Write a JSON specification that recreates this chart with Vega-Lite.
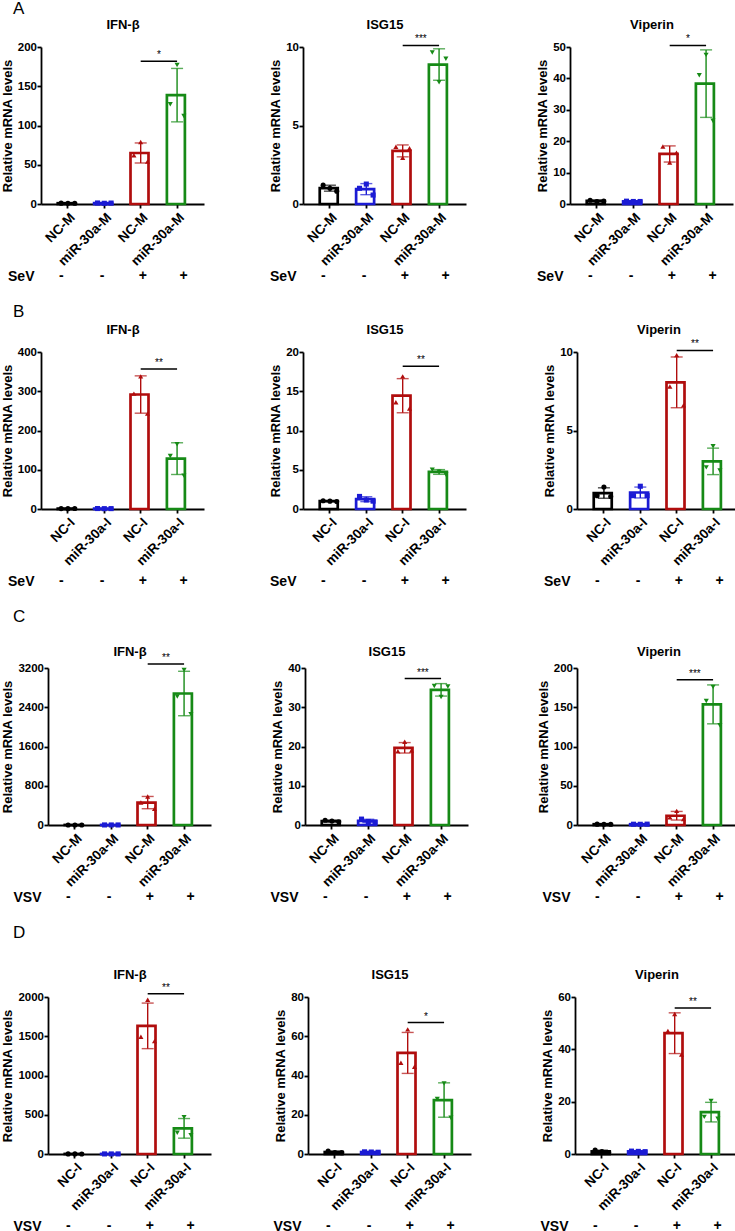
{
  "$schema": "https://vega.github.io/schema/vega-lite/v6.json",
  "background": "white",
  "padding": {"left": 0, "top": 0, "right": 0, "bottom": 0},
  "columns": 1,
  "align": "none",
  "spacing": 20,
  "config": {
    "font": "Liberation Sans",
    "view": {"stroke": null},
    "axis": {"grid": false, "domainColor": "#000", "domainWidth": 1.8, "tickColor": "#000", "tickWidth": 1.8, "tickSize": 4, "labelColor": "#000", "labelFontWeight": "bold", "labelFontSize": 11.5, "labelPadding": 0.5, "titleColor": "#000", "titleFontWeight": "bold", "titleFontSize": 13, "titlePadding": 3},
    "axisX": {"labelAngle": -45, "labelFontSize": 13.5, "labelPadding": 2},
    "title": {"fontSize": 17, "fontWeight": "normal", "color": "#000", "anchor": "start", "dx": 13},
    "text": {"color": "#000"}
  },
  "datasets": {
    "reps": [
      {"p":"A1","g":"NC-M/-","rep":1,"v":1.1},{"p":"A1","g":"NC-M/-","rep":2,"v":0.95},{"p":"A1","g":"NC-M/-","rep":3,"v":0.95},
      {"p":"A1","g":"miR-30a-M/-","rep":1,"v":1.3},{"p":"A1","g":"miR-30a-M/-","rep":2,"v":0.9},{"p":"A1","g":"miR-30a-M/-","rep":3,"v":1.2},
      {"p":"A1","g":"NC-M/+","rep":1,"v":62},{"p":"A1","g":"NC-M/+","rep":2,"v":79},{"p":"A1","g":"NC-M/+","rep":3,"v":54},
      {"p":"A1","g":"miR-30a-M/+","rep":1,"v":127},{"p":"A1","g":"miR-30a-M/+","rep":2,"v":177},{"p":"A1","g":"miR-30a-M/+","rep":3,"v":112},
      {"p":"A2","g":"NC-M/-","rep":1,"v":1.2},{"p":"A2","g":"NC-M/-","rep":2,"v":1.0},{"p":"A2","g":"NC-M/-","rep":3,"v":0.82},
      {"p":"A2","g":"miR-30a-M/-","rep":1,"v":1.0},{"p":"A2","g":"miR-30a-M/-","rep":2,"v":1.27},{"p":"A2","g":"miR-30a-M/-","rep":3,"v":0.57},
      {"p":"A2","g":"NC-M/+","rep":1,"v":3.65},{"p":"A2","g":"NC-M/+","rep":2,"v":2.95},{"p":"A2","g":"NC-M/+","rep":3,"v":3.55},
      {"p":"A2","g":"miR-30a-M/+","rep":1,"v":9.65},{"p":"A2","g":"miR-30a-M/+","rep":2,"v":7.75},{"p":"A2","g":"miR-30a-M/+","rep":3,"v":9.25},
      {"p":"A3","g":"NC-M/-","rep":1,"v":1.2},{"p":"A3","g":"NC-M/-","rep":2,"v":0.8},{"p":"A3","g":"NC-M/-","rep":3,"v":0.9},
      {"p":"A3","g":"miR-30a-M/-","rep":1,"v":0.9},{"p":"A3","g":"miR-30a-M/-","rep":2,"v":0.8},{"p":"A3","g":"miR-30a-M/-","rep":3,"v":0.8},
      {"p":"A3","g":"NC-M/+","rep":1,"v":18.3},{"p":"A3","g":"NC-M/+","rep":2,"v":13.2},{"p":"A3","g":"NC-M/+","rep":3,"v":16.3},
      {"p":"A3","g":"miR-30a-M/+","rep":1,"v":41},{"p":"A3","g":"miR-30a-M/+","rep":2,"v":47.5},{"p":"A3","g":"miR-30a-M/+","rep":3,"v":26.5},
      {"p":"B1","g":"NC-I/-","rep":1,"v":1.0},{"p":"B1","g":"NC-I/-","rep":2,"v":0.9},{"p":"B1","g":"NC-I/-","rep":3,"v":1.1},
      {"p":"B1","g":"miR-30a-I/-","rep":1,"v":1.2},{"p":"B1","g":"miR-30a-I/-","rep":2,"v":0.9},{"p":"B1","g":"miR-30a-I/-","rep":3,"v":1.0},
      {"p":"B1","g":"NC-I/+","rep":1,"v":294},{"p":"B1","g":"NC-I/+","rep":2,"v":338},{"p":"B1","g":"NC-I/+","rep":3,"v":243},
      {"p":"B1","g":"miR-30a-I/+","rep":1,"v":135},{"p":"B1","g":"miR-30a-I/+","rep":2,"v":165},{"p":"B1","g":"miR-30a-I/+","rep":3,"v":85},
      {"p":"B2","g":"NC-I/-","rep":1,"v":1.05},{"p":"B2","g":"NC-I/-","rep":2,"v":1.0},{"p":"B2","g":"NC-I/-","rep":3,"v":0.95},
      {"p":"B2","g":"miR-30a-I/-","rep":1,"v":1.6},{"p":"B2","g":"miR-30a-I/-","rep":2,"v":1.15},{"p":"B2","g":"miR-30a-I/-","rep":3,"v":1.0},
      {"p":"B2","g":"NC-I/+","rep":1,"v":13.6},{"p":"B2","g":"NC-I/+","rep":2,"v":16.9},{"p":"B2","g":"NC-I/+","rep":3,"v":12.8},
      {"p":"B2","g":"miR-30a-I/+","rep":1,"v":5.0},{"p":"B2","g":"miR-30a-I/+","rep":2,"v":4.75},{"p":"B2","g":"miR-30a-I/+","rep":3,"v":4.4},
      {"p":"B3","g":"NC-I/-","rep":1,"v":0.85},{"p":"B3","g":"NC-I/-","rep":2,"v":1.4},{"p":"B3","g":"NC-I/-","rep":3,"v":0.8},
      {"p":"B3","g":"miR-30a-I/-","rep":1,"v":0.85},{"p":"B3","g":"miR-30a-I/-","rep":2,"v":1.45},{"p":"B3","g":"miR-30a-I/-","rep":3,"v":0.85},
      {"p":"B3","g":"NC-I/+","rep":1,"v":7.8},{"p":"B3","g":"NC-I/+","rep":2,"v":9.8},{"p":"B3","g":"NC-I/+","rep":3,"v":6.6},
      {"p":"B3","g":"miR-30a-I/+","rep":1,"v":2.65},{"p":"B3","g":"miR-30a-I/+","rep":2,"v":4.0},{"p":"B3","g":"miR-30a-I/+","rep":3,"v":2.45},
      {"p":"C1","g":"NC-M/-","rep":1,"v":1.1},{"p":"C1","g":"NC-M/-","rep":2,"v":0.9},{"p":"C1","g":"NC-M/-","rep":3,"v":1.0},
      {"p":"C1","g":"miR-30a-M/-","rep":1,"v":1.2},{"p":"C1","g":"miR-30a-M/-","rep":2,"v":0.8},{"p":"C1","g":"miR-30a-M/-","rep":3,"v":1.0},
      {"p":"C1","g":"NC-M/+","rep":1,"v":460},{"p":"C1","g":"NC-M/+","rep":2,"v":580},{"p":"C1","g":"NC-M/+","rep":3,"v":330},
      {"p":"C1","g":"miR-30a-M/+","rep":1,"v":2620},{"p":"C1","g":"miR-30a-M/+","rep":2,"v":3160},{"p":"C1","g":"miR-30a-M/+","rep":3,"v":2260},
      {"p":"C2","g":"NC-M/-","rep":1,"v":1.2},{"p":"C2","g":"NC-M/-","rep":2,"v":1.0},{"p":"C2","g":"NC-M/-","rep":3,"v":0.8},
      {"p":"C2","g":"miR-30a-M/-","rep":1,"v":1.5},{"p":"C2","g":"miR-30a-M/-","rep":2,"v":0.9},{"p":"C2","g":"miR-30a-M/-","rep":3,"v":0.7},
      {"p":"C2","g":"NC-M/+","rep":1,"v":18.8},{"p":"C2","g":"NC-M/+","rep":2,"v":21.2},{"p":"C2","g":"NC-M/+","rep":3,"v":19.0},
      {"p":"C2","g":"miR-30a-M/+","rep":1,"v":35.4},{"p":"C2","g":"miR-30a-M/+","rep":2,"v":32.6},{"p":"C2","g":"miR-30a-M/+","rep":3,"v":35.3},
      {"p":"C3","g":"NC-M/-","rep":1,"v":1.1},{"p":"C3","g":"NC-M/-","rep":2,"v":0.9},{"p":"C3","g":"NC-M/-","rep":3,"v":1.0},
      {"p":"C3","g":"miR-30a-M/-","rep":1,"v":1.0},{"p":"C3","g":"miR-30a-M/-","rep":2,"v":0.9},{"p":"C3","g":"miR-30a-M/-","rep":3,"v":1.1},
      {"p":"C3","g":"NC-M/+","rep":1,"v":9.8},{"p":"C3","g":"NC-M/+","rep":2,"v":18.0},{"p":"C3","g":"NC-M/+","rep":3,"v":7.6},
      {"p":"C3","g":"miR-30a-M/+","rep":1,"v":158},{"p":"C3","g":"miR-30a-M/+","rep":2,"v":176},{"p":"C3","g":"miR-30a-M/+","rep":3,"v":127},
      {"p":"D1","g":"NC-I/-","rep":1,"v":1.0},{"p":"D1","g":"NC-I/-","rep":2,"v":1.1},{"p":"D1","g":"NC-I/-","rep":3,"v":0.9},
      {"p":"D1","g":"miR-30a-I/-","rep":1,"v":1.0},{"p":"D1","g":"miR-30a-I/-","rep":2,"v":0.9},{"p":"D1","g":"miR-30a-I/-","rep":3,"v":1.1},
      {"p":"D1","g":"NC-I/+","rep":1,"v":1493},{"p":"D1","g":"NC-I/+","rep":2,"v":1966},{"p":"D1","g":"NC-I/+","rep":3,"v":1438},
      {"p":"D1","g":"miR-30a-I/+","rep":1,"v":270},{"p":"D1","g":"miR-30a-I/+","rep":2,"v":470},{"p":"D1","g":"miR-30a-I/+","rep":3,"v":240},
      {"p":"D2","g":"NC-I/-","rep":1,"v":1.5},{"p":"D2","g":"NC-I/-","rep":2,"v":0.8},{"p":"D2","g":"NC-I/-","rep":3,"v":0.7},
      {"p":"D2","g":"miR-30a-I/-","rep":1,"v":1.1},{"p":"D2","g":"miR-30a-I/-","rep":2,"v":1.0},{"p":"D2","g":"miR-30a-I/-","rep":3,"v":0.9},
      {"p":"D2","g":"NC-I/+","rep":1,"v":46.5},{"p":"D2","g":"NC-I/+","rep":2,"v":63.5},{"p":"D2","g":"NC-I/+","rep":3,"v":44.5},
      {"p":"D2","g":"miR-30a-I/+","rep":1,"v":28},{"p":"D2","g":"miR-30a-I/+","rep":2,"v":36},{"p":"D2","g":"miR-30a-I/+","rep":3,"v":18.5},
      {"p":"D3","g":"NC-I/-","rep":1,"v":1.5},{"p":"D3","g":"NC-I/-","rep":2,"v":0.9},{"p":"D3","g":"NC-I/-","rep":3,"v":0.6},
      {"p":"D3","g":"miR-30a-I/-","rep":1,"v":1.1},{"p":"D3","g":"miR-30a-I/-","rep":2,"v":1.0},{"p":"D3","g":"miR-30a-I/-","rep":3,"v":0.9},
      {"p":"D3","g":"NC-I/+","rep":1,"v":47},{"p":"D3","g":"NC-I/+","rep":2,"v":53.5},{"p":"D3","g":"NC-I/+","rep":3,"v":38},
      {"p":"D3","g":"miR-30a-I/+","rep":1,"v":14.2},{"p":"D3","g":"miR-30a-I/+","rep":2,"v":20.3},{"p":"D3","g":"miR-30a-I/+","rep":3,"v":13.5}
    ],
    "sig": [
      {"p":"A1","from":"NC-M/+","to":"miR-30a-M/+","v":182,"s":"*"},
      {"p":"A2","from":"NC-M/+","to":"miR-30a-M/+","v":10.1,"s":"***"},
      {"p":"A3","from":"NC-M/+","to":"miR-30a-M/+","v":50.5,"s":"*"},
      {"p":"B1","from":"NC-I/+","to":"miR-30a-I/+","v":357,"s":"**"},
      {"p":"B2","from":"NC-I/+","to":"miR-30a-I/+","v":18.2,"s":"**"},
      {"p":"B3","from":"NC-I/+","to":"miR-30a-I/+","v":10.1,"s":"**"},
      {"p":"C1","from":"NC-M/+","to":"miR-30a-M/+","v":3281,"s":"**"},
      {"p":"C2","from":"NC-M/+","to":"miR-30a-M/+","v":37.3,"s":"***"},
      {"p":"C3","from":"NC-M/+","to":"miR-30a-M/+","v":185,"s":"***"},
      {"p":"D1","from":"NC-I/+","to":"miR-30a-I/+","v":2042,"s":"**"},
      {"p":"D2","from":"NC-I/+","to":"miR-30a-I/+","v":67,"s":"*"},
      {"p":"D3","from":"NC-I/+","to":"miR-30a-I/+","v":55.8,"s":"**"}
    ],
    "conds": [
      {"r":"A","g":"NC-M/-","s":"-","virus":"SeV"},{"r":"A","g":"miR-30a-M/-","s":"-","virus":"SeV"},{"r":"A","g":"NC-M/+","s":"+","virus":"SeV"},{"r":"A","g":"miR-30a-M/+","s":"+","virus":"SeV"},
      {"r":"B","g":"NC-I/-","s":"-","virus":"SeV"},{"r":"B","g":"miR-30a-I/-","s":"-","virus":"SeV"},{"r":"B","g":"NC-I/+","s":"+","virus":"SeV"},{"r":"B","g":"miR-30a-I/+","s":"+","virus":"SeV"},
      {"r":"C","g":"NC-M/-","s":"-","virus":"VSV"},{"r":"C","g":"miR-30a-M/-","s":"-","virus":"VSV"},{"r":"C","g":"NC-M/+","s":"+","virus":"VSV"},{"r":"C","g":"miR-30a-M/+","s":"+","virus":"VSV"},
      {"r":"D","g":"NC-I/-","s":"-","virus":"VSV"},{"r":"D","g":"miR-30a-I/-","s":"-","virus":"VSV"},{"r":"D","g":"NC-I/+","s":"+","virus":"VSV"},{"r":"D","g":"miR-30a-I/+","s":"+","virus":"VSV"}
    ]
  },
  "concat": [
    {
      "title": {"text": "A", "offset": 0},
      "spacing": 0,
      "hconcat": [
        {"width": 1, "height": 1, "data": {"values": [{}]}, "mark": {"type": "text", "text": ""}},
        {"spacing": 65, "hconcat": [
        {"bounds": "flush", "spacing": 65, "vconcat": [
          {"width": 163, "height": 157, "data": {"name": "reps"}, "transform": [{"filter": {"field": "p", "equal": "A1"}}], "resolve": {"axis": {"x": "independent"}},
           "encoding": {
             "x": {"field": "g", "type": "nominal", "scale": {"domain": ["NC-M/-","miR-30a-M/-","NC-M/+","miR-30a-M/+"], "paddingInner": 0.44, "paddingOuter": 0.46}, "axis": null},
             "y": {"field": "v", "type": "quantitative", "scale": {"domain": [0, 200], "nice": false}, "axis": {"values": [0, 50, 100, 150, 200], "format": "d", "title": "Relative mRNA levels"}},
             "color": {"field": "g", "type": "nominal", "scale": {"domain": ["NC-M/-","miR-30a-M/-","NC-M/+","miR-30a-M/+","NC-I/-","miR-30a-I/-","NC-I/+","miR-30a-I/+"], "range": ["#000000","#1b1bd4","#b00d0d","#168a16","#000000","#1b1bd4","#b00d0d","#168a16"]}, "legend": null}
           },
           "layer": [
             {"transform": [{"aggregate": [{"op": "mean", "field": "v", "as": "v"}], "groupby": ["g"]}], "mark": {"type": "bar", "filled": false, "strokeWidth": 2.7}, "encoding": {"x": {"field": "g", "type": "nominal", "axis": {"title": null, "labelExpr": "split(datum.label, '/')[0]"}}}},
             {"mark": {"type": "errorbar", "extent": "stdev", "ticks": {"size": 12}, "thickness": 1.4}},
             {"mark": {"type": "point", "filled": true, "size": 26, "opacity": 1}, "encoding": {"xOffset": {"field": "rep", "type": "nominal"}, "shape": {"field": "g", "type": "nominal", "scale": {"domain": ["NC-M/-","miR-30a-M/-","NC-M/+","miR-30a-M/+","NC-I/-","miR-30a-I/-","NC-I/+","miR-30a-I/+"], "range": ["circle","square","triangle-up","triangle-down","circle","square","triangle-up","triangle-down"]}, "legend": null}}},
             {"data": {"name": "sig"}, "transform": [{"filter": {"field": "p", "equal": "A1"}}], "mark": {"type": "rule", "strokeWidth": 1.5, "color": "#000"}, "encoding": {"x": {"field": "from", "type": "nominal", "bandPosition": 0.5, "axis": null}, "x2": {"field": "to", "bandPosition": 0.5}, "color": {"value": "#000"}}},
             {"data": {"name": "sig"}, "transform": [{"filter": {"field": "p", "equal": "A1"}}], "mark": {"type": "text", "baseline": "bottom", "dy": -1, "fontSize": 10, "fill": "#000"}, "encoding": {"x": {"field": "from", "type": "nominal", "bandPosition": 1.393, "axis": {"orient": "top", "title": "IFN-β", "labels": false, "ticks": false, "domain": false, "titlePadding": 16}}, "text": {"field": "s"}, "color": {"value": "#000"}}}
           ]},
          {"width": 163, "height": 14, "data": {"name": "conds"}, "transform": [{"filter": {"field": "r", "equal": "A"}}], "mark": {"type": "text", "fontSize": 14, "fontWeight": "bold"},
           "encoding": {"x": {"field": "g", "type": "nominal", "scale": {"domain": ["NC-M/-","miR-30a-M/-","NC-M/+","miR-30a-M/+"], "paddingInner": 0.44, "paddingOuter": 0.46}, "axis": null}, "y": {"field": "virus", "type": "nominal", "axis": {"title": null, "domain": false, "ticks": false, "labelFontSize": 14, "labelPadding": 7, "labelAngle": 0}}, "text": {"field": "s"}}}
        ]},
        {"spacing": 70, "hconcat": [
        {"bounds": "flush", "spacing": 65, "vconcat": [
          {"width": 163, "height": 157, "data": {"name": "reps"}, "transform": [{"filter": {"field": "p", "equal": "A2"}}], "resolve": {"axis": {"x": "independent"}},
           "encoding": {
             "x": {"field": "g", "type": "nominal", "scale": {"domain": ["NC-M/-","miR-30a-M/-","NC-M/+","miR-30a-M/+"], "paddingInner": 0.44, "paddingOuter": 0.46}, "axis": null},
             "y": {"field": "v", "type": "quantitative", "scale": {"domain": [0, 10], "nice": false}, "axis": {"values": [0, 5, 10], "format": "d", "title": "Relative mRNA levels"}},
             "color": {"field": "g", "type": "nominal", "scale": {"domain": ["NC-M/-","miR-30a-M/-","NC-M/+","miR-30a-M/+","NC-I/-","miR-30a-I/-","NC-I/+","miR-30a-I/+"], "range": ["#000000","#1b1bd4","#b00d0d","#168a16","#000000","#1b1bd4","#b00d0d","#168a16"]}, "legend": null}
           },
           "layer": [
             {"transform": [{"aggregate": [{"op": "mean", "field": "v", "as": "v"}], "groupby": ["g"]}], "mark": {"type": "bar", "filled": false, "strokeWidth": 2.7}, "encoding": {"x": {"field": "g", "type": "nominal", "axis": {"title": null, "labelExpr": "split(datum.label, '/')[0]"}}}},
             {"mark": {"type": "errorbar", "extent": "stdev", "ticks": {"size": 12}, "thickness": 1.4}},
             {"mark": {"type": "point", "filled": true, "size": 26, "opacity": 1}, "encoding": {"xOffset": {"field": "rep", "type": "nominal"}, "shape": {"field": "g", "type": "nominal", "scale": {"domain": ["NC-M/-","miR-30a-M/-","NC-M/+","miR-30a-M/+","NC-I/-","miR-30a-I/-","NC-I/+","miR-30a-I/+"], "range": ["circle","square","triangle-up","triangle-down","circle","square","triangle-up","triangle-down"]}, "legend": null}}},
             {"data": {"name": "sig"}, "transform": [{"filter": {"field": "p", "equal": "A2"}}], "mark": {"type": "rule", "strokeWidth": 1.5, "color": "#000"}, "encoding": {"x": {"field": "from", "type": "nominal", "bandPosition": 0.5, "axis": null}, "x2": {"field": "to", "bandPosition": 0.5}, "color": {"value": "#000"}}},
             {"data": {"name": "sig"}, "transform": [{"filter": {"field": "p", "equal": "A2"}}], "mark": {"type": "text", "baseline": "bottom", "dy": -1, "fontSize": 10, "fill": "#000"}, "encoding": {"x": {"field": "from", "type": "nominal", "bandPosition": 1.393, "axis": {"orient": "top", "title": "ISG15", "labels": false, "ticks": false, "domain": false, "titlePadding": 16}}, "text": {"field": "s"}, "color": {"value": "#000"}}}
           ]},
          {"width": 163, "height": 14, "data": {"name": "conds"}, "transform": [{"filter": {"field": "r", "equal": "A"}}], "mark": {"type": "text", "fontSize": 14, "fontWeight": "bold"},
           "encoding": {"x": {"field": "g", "type": "nominal", "scale": {"domain": ["NC-M/-","miR-30a-M/-","NC-M/+","miR-30a-M/+"], "paddingInner": 0.44, "paddingOuter": 0.46}, "axis": null}, "y": {"field": "virus", "type": "nominal", "axis": {"title": null, "domain": false, "ticks": false, "labelFontSize": 14, "labelPadding": 7, "labelAngle": 0}}, "text": {"field": "s"}}}
        ]},
        {"bounds": "flush", "spacing": 65, "vconcat": [
          {"width": 163, "height": 157, "data": {"name": "reps"}, "transform": [{"filter": {"field": "p", "equal": "A3"}}], "resolve": {"axis": {"x": "independent"}},
           "encoding": {
             "x": {"field": "g", "type": "nominal", "scale": {"domain": ["NC-M/-","miR-30a-M/-","NC-M/+","miR-30a-M/+"], "paddingInner": 0.44, "paddingOuter": 0.46}, "axis": null},
             "y": {"field": "v", "type": "quantitative", "scale": {"domain": [0, 50], "nice": false}, "axis": {"values": [0, 10, 20, 30, 40, 50], "format": "d", "title": "Relative mRNA levels"}},
             "color": {"field": "g", "type": "nominal", "scale": {"domain": ["NC-M/-","miR-30a-M/-","NC-M/+","miR-30a-M/+","NC-I/-","miR-30a-I/-","NC-I/+","miR-30a-I/+"], "range": ["#000000","#1b1bd4","#b00d0d","#168a16","#000000","#1b1bd4","#b00d0d","#168a16"]}, "legend": null}
           },
           "layer": [
             {"transform": [{"aggregate": [{"op": "mean", "field": "v", "as": "v"}], "groupby": ["g"]}], "mark": {"type": "bar", "filled": false, "strokeWidth": 2.7}, "encoding": {"x": {"field": "g", "type": "nominal", "axis": {"title": null, "labelExpr": "split(datum.label, '/')[0]"}}}},
             {"mark": {"type": "errorbar", "extent": "stdev", "ticks": {"size": 12}, "thickness": 1.4}},
             {"mark": {"type": "point", "filled": true, "size": 26, "opacity": 1}, "encoding": {"xOffset": {"field": "rep", "type": "nominal"}, "shape": {"field": "g", "type": "nominal", "scale": {"domain": ["NC-M/-","miR-30a-M/-","NC-M/+","miR-30a-M/+","NC-I/-","miR-30a-I/-","NC-I/+","miR-30a-I/+"], "range": ["circle","square","triangle-up","triangle-down","circle","square","triangle-up","triangle-down"]}, "legend": null}}},
             {"data": {"name": "sig"}, "transform": [{"filter": {"field": "p", "equal": "A3"}}], "mark": {"type": "rule", "strokeWidth": 1.5, "color": "#000"}, "encoding": {"x": {"field": "from", "type": "nominal", "bandPosition": 0.5, "axis": null}, "x2": {"field": "to", "bandPosition": 0.5}, "color": {"value": "#000"}}},
             {"data": {"name": "sig"}, "transform": [{"filter": {"field": "p", "equal": "A3"}}], "mark": {"type": "text", "baseline": "bottom", "dy": -1, "fontSize": 10, "fill": "#000"}, "encoding": {"x": {"field": "from", "type": "nominal", "bandPosition": 1.393, "axis": {"orient": "top", "title": "Viperin", "labels": false, "ticks": false, "domain": false, "titlePadding": 16}}, "text": {"field": "s"}, "color": {"value": "#000"}}}
           ]},
          {"width": 163, "height": 14, "data": {"name": "conds"}, "transform": [{"filter": {"field": "r", "equal": "A"}}], "mark": {"type": "text", "fontSize": 14, "fontWeight": "bold"},
           "encoding": {"x": {"field": "g", "type": "nominal", "scale": {"domain": ["NC-M/-","miR-30a-M/-","NC-M/+","miR-30a-M/+"], "paddingInner": 0.44, "paddingOuter": 0.46}, "axis": null}, "y": {"field": "virus", "type": "nominal", "axis": {"title": null, "domain": false, "ticks": false, "labelFontSize": 14, "labelPadding": 7, "labelAngle": 0}}, "text": {"field": "s"}}}
        ]}
        ]}
        ]}
      ]
    },
    {
      "title": {"text": "B", "offset": 2},
      "spacing": 0,
      "hconcat": [
        {"width": 1, "height": 1, "data": {"values": [{}]}, "mark": {"type": "text", "text": ""}},
        {"spacing": 65, "hconcat": [
        {"bounds": "flush", "spacing": 65, "vconcat": [
          {"width": 163, "height": 157, "data": {"name": "reps"}, "transform": [{"filter": {"field": "p", "equal": "B1"}}], "resolve": {"axis": {"x": "independent"}},
           "encoding": {
             "x": {"field": "g", "type": "nominal", "scale": {"domain": ["NC-I/-","miR-30a-I/-","NC-I/+","miR-30a-I/+"], "paddingInner": 0.44, "paddingOuter": 0.46}, "axis": null},
             "y": {"field": "v", "type": "quantitative", "scale": {"domain": [0, 400], "nice": false}, "axis": {"values": [0, 100, 200, 300, 400], "format": "d", "title": "Relative mRNA levels"}},
             "color": {"field": "g", "type": "nominal", "scale": {"domain": ["NC-M/-","miR-30a-M/-","NC-M/+","miR-30a-M/+","NC-I/-","miR-30a-I/-","NC-I/+","miR-30a-I/+"], "range": ["#000000","#1b1bd4","#b00d0d","#168a16","#000000","#1b1bd4","#b00d0d","#168a16"]}, "legend": null}
           },
           "layer": [
             {"transform": [{"aggregate": [{"op": "mean", "field": "v", "as": "v"}], "groupby": ["g"]}], "mark": {"type": "bar", "filled": false, "strokeWidth": 2.7}, "encoding": {"x": {"field": "g", "type": "nominal", "axis": {"title": null, "labelExpr": "split(datum.label, '/')[0]"}}}},
             {"mark": {"type": "errorbar", "extent": "stdev", "ticks": {"size": 12}, "thickness": 1.4}},
             {"mark": {"type": "point", "filled": true, "size": 26, "opacity": 1}, "encoding": {"xOffset": {"field": "rep", "type": "nominal"}, "shape": {"field": "g", "type": "nominal", "scale": {"domain": ["NC-M/-","miR-30a-M/-","NC-M/+","miR-30a-M/+","NC-I/-","miR-30a-I/-","NC-I/+","miR-30a-I/+"], "range": ["circle","square","triangle-up","triangle-down","circle","square","triangle-up","triangle-down"]}, "legend": null}}},
             {"data": {"name": "sig"}, "transform": [{"filter": {"field": "p", "equal": "B1"}}], "mark": {"type": "rule", "strokeWidth": 1.5, "color": "#000"}, "encoding": {"x": {"field": "from", "type": "nominal", "bandPosition": 0.5, "axis": null}, "x2": {"field": "to", "bandPosition": 0.5}, "color": {"value": "#000"}}},
             {"data": {"name": "sig"}, "transform": [{"filter": {"field": "p", "equal": "B1"}}], "mark": {"type": "text", "baseline": "bottom", "dy": -1, "fontSize": 10, "fill": "#000"}, "encoding": {"x": {"field": "from", "type": "nominal", "bandPosition": 1.393, "axis": {"orient": "top", "title": "IFN-β", "labels": false, "ticks": false, "domain": false, "titlePadding": 16}}, "text": {"field": "s"}, "color": {"value": "#000"}}}
           ]},
          {"width": 163, "height": 14, "data": {"name": "conds"}, "transform": [{"filter": {"field": "r", "equal": "B"}}], "mark": {"type": "text", "fontSize": 14, "fontWeight": "bold"},
           "encoding": {"x": {"field": "g", "type": "nominal", "scale": {"domain": ["NC-I/-","miR-30a-I/-","NC-I/+","miR-30a-I/+"], "paddingInner": 0.44, "paddingOuter": 0.46}, "axis": null}, "y": {"field": "virus", "type": "nominal", "axis": {"title": null, "domain": false, "ticks": false, "labelFontSize": 14, "labelPadding": 7, "labelAngle": 0}}, "text": {"field": "s"}}}
        ]},
        {"spacing": 77, "hconcat": [
        {"bounds": "flush", "spacing": 65, "vconcat": [
          {"width": 163, "height": 157, "data": {"name": "reps"}, "transform": [{"filter": {"field": "p", "equal": "B2"}}], "resolve": {"axis": {"x": "independent"}},
           "encoding": {
             "x": {"field": "g", "type": "nominal", "scale": {"domain": ["NC-I/-","miR-30a-I/-","NC-I/+","miR-30a-I/+"], "paddingInner": 0.44, "paddingOuter": 0.46}, "axis": null},
             "y": {"field": "v", "type": "quantitative", "scale": {"domain": [0, 20], "nice": false}, "axis": {"values": [0, 5, 10, 15, 20], "format": "d", "title": "Relative mRNA levels"}},
             "color": {"field": "g", "type": "nominal", "scale": {"domain": ["NC-M/-","miR-30a-M/-","NC-M/+","miR-30a-M/+","NC-I/-","miR-30a-I/-","NC-I/+","miR-30a-I/+"], "range": ["#000000","#1b1bd4","#b00d0d","#168a16","#000000","#1b1bd4","#b00d0d","#168a16"]}, "legend": null}
           },
           "layer": [
             {"transform": [{"aggregate": [{"op": "mean", "field": "v", "as": "v"}], "groupby": ["g"]}], "mark": {"type": "bar", "filled": false, "strokeWidth": 2.7}, "encoding": {"x": {"field": "g", "type": "nominal", "axis": {"title": null, "labelExpr": "split(datum.label, '/')[0]"}}}},
             {"mark": {"type": "errorbar", "extent": "stdev", "ticks": {"size": 12}, "thickness": 1.4}},
             {"mark": {"type": "point", "filled": true, "size": 26, "opacity": 1}, "encoding": {"xOffset": {"field": "rep", "type": "nominal"}, "shape": {"field": "g", "type": "nominal", "scale": {"domain": ["NC-M/-","miR-30a-M/-","NC-M/+","miR-30a-M/+","NC-I/-","miR-30a-I/-","NC-I/+","miR-30a-I/+"], "range": ["circle","square","triangle-up","triangle-down","circle","square","triangle-up","triangle-down"]}, "legend": null}}},
             {"data": {"name": "sig"}, "transform": [{"filter": {"field": "p", "equal": "B2"}}], "mark": {"type": "rule", "strokeWidth": 1.5, "color": "#000"}, "encoding": {"x": {"field": "from", "type": "nominal", "bandPosition": 0.5, "axis": null}, "x2": {"field": "to", "bandPosition": 0.5}, "color": {"value": "#000"}}},
             {"data": {"name": "sig"}, "transform": [{"filter": {"field": "p", "equal": "B2"}}], "mark": {"type": "text", "baseline": "bottom", "dy": -1, "fontSize": 10, "fill": "#000"}, "encoding": {"x": {"field": "from", "type": "nominal", "bandPosition": 1.393, "axis": {"orient": "top", "title": "ISG15", "labels": false, "ticks": false, "domain": false, "titlePadding": 16}}, "text": {"field": "s"}, "color": {"value": "#000"}}}
           ]},
          {"width": 163, "height": 14, "data": {"name": "conds"}, "transform": [{"filter": {"field": "r", "equal": "B"}}], "mark": {"type": "text", "fontSize": 14, "fontWeight": "bold"},
           "encoding": {"x": {"field": "g", "type": "nominal", "scale": {"domain": ["NC-I/-","miR-30a-I/-","NC-I/+","miR-30a-I/+"], "paddingInner": 0.44, "paddingOuter": 0.46}, "axis": null}, "y": {"field": "virus", "type": "nominal", "axis": {"title": null, "domain": false, "ticks": false, "labelFontSize": 14, "labelPadding": 7, "labelAngle": 0}}, "text": {"field": "s"}}}
        ]},
        {"bounds": "flush", "spacing": 65, "vconcat": [
          {"width": 163, "height": 157, "data": {"name": "reps"}, "transform": [{"filter": {"field": "p", "equal": "B3"}}], "resolve": {"axis": {"x": "independent"}},
           "encoding": {
             "x": {"field": "g", "type": "nominal", "scale": {"domain": ["NC-I/-","miR-30a-I/-","NC-I/+","miR-30a-I/+"], "paddingInner": 0.44, "paddingOuter": 0.46}, "axis": null},
             "y": {"field": "v", "type": "quantitative", "scale": {"domain": [0, 10], "nice": false}, "axis": {"values": [0, 5, 10], "format": "d", "title": "Relative mRNA levels"}},
             "color": {"field": "g", "type": "nominal", "scale": {"domain": ["NC-M/-","miR-30a-M/-","NC-M/+","miR-30a-M/+","NC-I/-","miR-30a-I/-","NC-I/+","miR-30a-I/+"], "range": ["#000000","#1b1bd4","#b00d0d","#168a16","#000000","#1b1bd4","#b00d0d","#168a16"]}, "legend": null}
           },
           "layer": [
             {"transform": [{"aggregate": [{"op": "mean", "field": "v", "as": "v"}], "groupby": ["g"]}], "mark": {"type": "bar", "filled": false, "strokeWidth": 2.7}, "encoding": {"x": {"field": "g", "type": "nominal", "axis": {"title": null, "labelExpr": "split(datum.label, '/')[0]"}}}},
             {"mark": {"type": "errorbar", "extent": "stdev", "ticks": {"size": 12}, "thickness": 1.4}},
             {"mark": {"type": "point", "filled": true, "size": 26, "opacity": 1}, "encoding": {"xOffset": {"field": "rep", "type": "nominal"}, "shape": {"field": "g", "type": "nominal", "scale": {"domain": ["NC-M/-","miR-30a-M/-","NC-M/+","miR-30a-M/+","NC-I/-","miR-30a-I/-","NC-I/+","miR-30a-I/+"], "range": ["circle","square","triangle-up","triangle-down","circle","square","triangle-up","triangle-down"]}, "legend": null}}},
             {"data": {"name": "sig"}, "transform": [{"filter": {"field": "p", "equal": "B3"}}], "mark": {"type": "rule", "strokeWidth": 1.5, "color": "#000"}, "encoding": {"x": {"field": "from", "type": "nominal", "bandPosition": 0.5, "axis": null}, "x2": {"field": "to", "bandPosition": 0.5}, "color": {"value": "#000"}}},
             {"data": {"name": "sig"}, "transform": [{"filter": {"field": "p", "equal": "B3"}}], "mark": {"type": "text", "baseline": "bottom", "dy": -1, "fontSize": 10, "fill": "#000"}, "encoding": {"x": {"field": "from", "type": "nominal", "bandPosition": 1.393, "axis": {"orient": "top", "title": "Viperin", "labels": false, "ticks": false, "domain": false, "titlePadding": 16}}, "text": {"field": "s"}, "color": {"value": "#000"}}}
           ]},
          {"width": 163, "height": 14, "data": {"name": "conds"}, "transform": [{"filter": {"field": "r", "equal": "B"}}], "mark": {"type": "text", "fontSize": 14, "fontWeight": "bold"},
           "encoding": {"x": {"field": "g", "type": "nominal", "scale": {"domain": ["NC-I/-","miR-30a-I/-","NC-I/+","miR-30a-I/+"], "paddingInner": 0.44, "paddingOuter": 0.46}, "axis": null}, "y": {"field": "virus", "type": "nominal", "axis": {"title": null, "domain": false, "ticks": false, "labelFontSize": 14, "labelPadding": 7, "labelAngle": 0}}, "text": {"field": "s"}}}
        ]}
        ]}
        ]}
      ]
    },
    {
      "title": {"text": "C", "offset": 19.5},
      "spacing": 0,
      "hconcat": [
        {"width": 1, "height": 1, "data": {"values": [{}]}, "mark": {"type": "text", "text": ""}},
        {"spacing": 58, "hconcat": [
        {"bounds": "flush", "spacing": 65, "vconcat": [
          {"width": 163, "height": 157, "data": {"name": "reps"}, "transform": [{"filter": {"field": "p", "equal": "C1"}}], "resolve": {"axis": {"x": "independent"}},
           "encoding": {
             "x": {"field": "g", "type": "nominal", "scale": {"domain": ["NC-M/-","miR-30a-M/-","NC-M/+","miR-30a-M/+"], "paddingInner": 0.44, "paddingOuter": 0.46}, "axis": null},
             "y": {"field": "v", "type": "quantitative", "scale": {"domain": [0, 3200], "nice": false}, "axis": {"values": [0, 800, 1600, 2400, 3200], "format": "d", "title": "Relative mRNA levels"}},
             "color": {"field": "g", "type": "nominal", "scale": {"domain": ["NC-M/-","miR-30a-M/-","NC-M/+","miR-30a-M/+","NC-I/-","miR-30a-I/-","NC-I/+","miR-30a-I/+"], "range": ["#000000","#1b1bd4","#b00d0d","#168a16","#000000","#1b1bd4","#b00d0d","#168a16"]}, "legend": null}
           },
           "layer": [
             {"transform": [{"aggregate": [{"op": "mean", "field": "v", "as": "v"}], "groupby": ["g"]}], "mark": {"type": "bar", "filled": false, "strokeWidth": 2.7}, "encoding": {"x": {"field": "g", "type": "nominal", "axis": {"title": null, "labelExpr": "split(datum.label, '/')[0]"}}}},
             {"mark": {"type": "errorbar", "extent": "stdev", "ticks": {"size": 12}, "thickness": 1.4}},
             {"mark": {"type": "point", "filled": true, "size": 26, "opacity": 1}, "encoding": {"xOffset": {"field": "rep", "type": "nominal"}, "shape": {"field": "g", "type": "nominal", "scale": {"domain": ["NC-M/-","miR-30a-M/-","NC-M/+","miR-30a-M/+","NC-I/-","miR-30a-I/-","NC-I/+","miR-30a-I/+"], "range": ["circle","square","triangle-up","triangle-down","circle","square","triangle-up","triangle-down"]}, "legend": null}}},
             {"data": {"name": "sig"}, "transform": [{"filter": {"field": "p", "equal": "C1"}}], "mark": {"type": "rule", "strokeWidth": 1.5, "color": "#000"}, "encoding": {"x": {"field": "from", "type": "nominal", "bandPosition": 0.5, "axis": null}, "x2": {"field": "to", "bandPosition": 0.5}, "color": {"value": "#000"}}},
             {"data": {"name": "sig"}, "transform": [{"filter": {"field": "p", "equal": "C1"}}], "mark": {"type": "text", "baseline": "bottom", "dy": -1, "fontSize": 10, "fill": "#000"}, "encoding": {"x": {"field": "from", "type": "nominal", "bandPosition": 1.393, "axis": {"orient": "top", "title": "IFN-β", "labels": false, "ticks": false, "domain": false, "titlePadding": 9.5}}, "text": {"field": "s"}, "color": {"value": "#000"}}}
           ]},
          {"width": 163, "height": 14, "data": {"name": "conds"}, "transform": [{"filter": {"field": "r", "equal": "C"}}], "mark": {"type": "text", "fontSize": 14, "fontWeight": "bold"},
           "encoding": {"x": {"field": "g", "type": "nominal", "scale": {"domain": ["NC-M/-","miR-30a-M/-","NC-M/+","miR-30a-M/+"], "paddingInner": 0.44, "paddingOuter": 0.46}, "axis": null}, "y": {"field": "virus", "type": "nominal", "axis": {"title": null, "domain": false, "ticks": false, "labelFontSize": 14, "labelPadding": 7, "labelAngle": 0}}, "text": {"field": "s"}}}
        ]},
        {"spacing": 69, "hconcat": [
        {"bounds": "flush", "spacing": 65, "vconcat": [
          {"width": 163, "height": 157, "data": {"name": "reps"}, "transform": [{"filter": {"field": "p", "equal": "C2"}}], "resolve": {"axis": {"x": "independent"}},
           "encoding": {
             "x": {"field": "g", "type": "nominal", "scale": {"domain": ["NC-M/-","miR-30a-M/-","NC-M/+","miR-30a-M/+"], "paddingInner": 0.44, "paddingOuter": 0.46}, "axis": null},
             "y": {"field": "v", "type": "quantitative", "scale": {"domain": [0, 40], "nice": false}, "axis": {"values": [0, 10, 20, 30, 40], "format": "d", "title": "Relative mRNA levels"}},
             "color": {"field": "g", "type": "nominal", "scale": {"domain": ["NC-M/-","miR-30a-M/-","NC-M/+","miR-30a-M/+","NC-I/-","miR-30a-I/-","NC-I/+","miR-30a-I/+"], "range": ["#000000","#1b1bd4","#b00d0d","#168a16","#000000","#1b1bd4","#b00d0d","#168a16"]}, "legend": null}
           },
           "layer": [
             {"transform": [{"aggregate": [{"op": "mean", "field": "v", "as": "v"}], "groupby": ["g"]}], "mark": {"type": "bar", "filled": false, "strokeWidth": 2.7}, "encoding": {"x": {"field": "g", "type": "nominal", "axis": {"title": null, "labelExpr": "split(datum.label, '/')[0]"}}}},
             {"mark": {"type": "errorbar", "extent": "stdev", "ticks": {"size": 12}, "thickness": 1.4}},
             {"mark": {"type": "point", "filled": true, "size": 26, "opacity": 1}, "encoding": {"xOffset": {"field": "rep", "type": "nominal"}, "shape": {"field": "g", "type": "nominal", "scale": {"domain": ["NC-M/-","miR-30a-M/-","NC-M/+","miR-30a-M/+","NC-I/-","miR-30a-I/-","NC-I/+","miR-30a-I/+"], "range": ["circle","square","triangle-up","triangle-down","circle","square","triangle-up","triangle-down"]}, "legend": null}}},
             {"data": {"name": "sig"}, "transform": [{"filter": {"field": "p", "equal": "C2"}}], "mark": {"type": "rule", "strokeWidth": 1.5, "color": "#000"}, "encoding": {"x": {"field": "from", "type": "nominal", "bandPosition": 0.5, "axis": null}, "x2": {"field": "to", "bandPosition": 0.5}, "color": {"value": "#000"}}},
             {"data": {"name": "sig"}, "transform": [{"filter": {"field": "p", "equal": "C2"}}], "mark": {"type": "text", "baseline": "bottom", "dy": -1, "fontSize": 10, "fill": "#000"}, "encoding": {"x": {"field": "from", "type": "nominal", "bandPosition": 1.393, "axis": {"orient": "top", "title": "ISG15", "labels": false, "ticks": false, "domain": false, "titlePadding": 9.5}}, "text": {"field": "s"}, "color": {"value": "#000"}}}
           ]},
          {"width": 163, "height": 14, "data": {"name": "conds"}, "transform": [{"filter": {"field": "r", "equal": "C"}}], "mark": {"type": "text", "fontSize": 14, "fontWeight": "bold"},
           "encoding": {"x": {"field": "g", "type": "nominal", "scale": {"domain": ["NC-M/-","miR-30a-M/-","NC-M/+","miR-30a-M/+"], "paddingInner": 0.44, "paddingOuter": 0.46}, "axis": null}, "y": {"field": "virus", "type": "nominal", "axis": {"title": null, "domain": false, "ticks": false, "labelFontSize": 14, "labelPadding": 7, "labelAngle": 0}}, "text": {"field": "s"}}}
        ]},
        {"bounds": "flush", "spacing": 65, "vconcat": [
          {"width": 163, "height": 157, "data": {"name": "reps"}, "transform": [{"filter": {"field": "p", "equal": "C3"}}], "resolve": {"axis": {"x": "independent"}},
           "encoding": {
             "x": {"field": "g", "type": "nominal", "scale": {"domain": ["NC-M/-","miR-30a-M/-","NC-M/+","miR-30a-M/+"], "paddingInner": 0.44, "paddingOuter": 0.46}, "axis": null},
             "y": {"field": "v", "type": "quantitative", "scale": {"domain": [0, 200], "nice": false}, "axis": {"values": [0, 50, 100, 150, 200], "format": "d", "title": "Relative mRNA levels"}},
             "color": {"field": "g", "type": "nominal", "scale": {"domain": ["NC-M/-","miR-30a-M/-","NC-M/+","miR-30a-M/+","NC-I/-","miR-30a-I/-","NC-I/+","miR-30a-I/+"], "range": ["#000000","#1b1bd4","#b00d0d","#168a16","#000000","#1b1bd4","#b00d0d","#168a16"]}, "legend": null}
           },
           "layer": [
             {"transform": [{"aggregate": [{"op": "mean", "field": "v", "as": "v"}], "groupby": ["g"]}], "mark": {"type": "bar", "filled": false, "strokeWidth": 2.7}, "encoding": {"x": {"field": "g", "type": "nominal", "axis": {"title": null, "labelExpr": "split(datum.label, '/')[0]"}}}},
             {"mark": {"type": "errorbar", "extent": "stdev", "ticks": {"size": 12}, "thickness": 1.4}},
             {"mark": {"type": "point", "filled": true, "size": 26, "opacity": 1}, "encoding": {"xOffset": {"field": "rep", "type": "nominal"}, "shape": {"field": "g", "type": "nominal", "scale": {"domain": ["NC-M/-","miR-30a-M/-","NC-M/+","miR-30a-M/+","NC-I/-","miR-30a-I/-","NC-I/+","miR-30a-I/+"], "range": ["circle","square","triangle-up","triangle-down","circle","square","triangle-up","triangle-down"]}, "legend": null}}},
             {"data": {"name": "sig"}, "transform": [{"filter": {"field": "p", "equal": "C3"}}], "mark": {"type": "rule", "strokeWidth": 1.5, "color": "#000"}, "encoding": {"x": {"field": "from", "type": "nominal", "bandPosition": 0.5, "axis": null}, "x2": {"field": "to", "bandPosition": 0.5}, "color": {"value": "#000"}}},
             {"data": {"name": "sig"}, "transform": [{"filter": {"field": "p", "equal": "C3"}}], "mark": {"type": "text", "baseline": "bottom", "dy": -1, "fontSize": 10, "fill": "#000"}, "encoding": {"x": {"field": "from", "type": "nominal", "bandPosition": 1.393, "axis": {"orient": "top", "title": "Viperin", "labels": false, "ticks": false, "domain": false, "titlePadding": 9.5}}, "text": {"field": "s"}, "color": {"value": "#000"}}}
           ]},
          {"width": 163, "height": 14, "data": {"name": "conds"}, "transform": [{"filter": {"field": "r", "equal": "C"}}], "mark": {"type": "text", "fontSize": 14, "fontWeight": "bold"},
           "encoding": {"x": {"field": "g", "type": "nominal", "scale": {"domain": ["NC-M/-","miR-30a-M/-","NC-M/+","miR-30a-M/+"], "paddingInner": 0.44, "paddingOuter": 0.46}, "axis": null}, "y": {"field": "virus", "type": "nominal", "axis": {"title": null, "domain": false, "ticks": false, "labelFontSize": 14, "labelPadding": 7, "labelAngle": 0}}, "text": {"field": "s"}}}
        ]}
        ]}
        ]}
      ]
    },
    {
      "title": {"text": "D", "offset": 26},
      "spacing": 0,
      "hconcat": [
        {"width": 1, "height": 1, "data": {"values": [{}]}, "mark": {"type": "text", "text": ""}},
        {"spacing": 61, "hconcat": [
        {"bounds": "flush", "spacing": 65, "vconcat": [
          {"width": 163, "height": 157, "data": {"name": "reps"}, "transform": [{"filter": {"field": "p", "equal": "D1"}}], "resolve": {"axis": {"x": "independent"}},
           "encoding": {
             "x": {"field": "g", "type": "nominal", "scale": {"domain": ["NC-I/-","miR-30a-I/-","NC-I/+","miR-30a-I/+"], "paddingInner": 0.44, "paddingOuter": 0.46}, "axis": null},
             "y": {"field": "v", "type": "quantitative", "scale": {"domain": [0, 2000], "nice": false}, "axis": {"values": [0, 500, 1000, 1500, 2000], "format": "d", "title": "Relative mRNA levels"}},
             "color": {"field": "g", "type": "nominal", "scale": {"domain": ["NC-M/-","miR-30a-M/-","NC-M/+","miR-30a-M/+","NC-I/-","miR-30a-I/-","NC-I/+","miR-30a-I/+"], "range": ["#000000","#1b1bd4","#b00d0d","#168a16","#000000","#1b1bd4","#b00d0d","#168a16"]}, "legend": null}
           },
           "layer": [
             {"transform": [{"aggregate": [{"op": "mean", "field": "v", "as": "v"}], "groupby": ["g"]}], "mark": {"type": "bar", "filled": false, "strokeWidth": 2.7}, "encoding": {"x": {"field": "g", "type": "nominal", "axis": {"title": null, "labelExpr": "split(datum.label, '/')[0]"}}}},
             {"mark": {"type": "errorbar", "extent": "stdev", "ticks": {"size": 12}, "thickness": 1.4}},
             {"mark": {"type": "point", "filled": true, "size": 26, "opacity": 1}, "encoding": {"xOffset": {"field": "rep", "type": "nominal"}, "shape": {"field": "g", "type": "nominal", "scale": {"domain": ["NC-M/-","miR-30a-M/-","NC-M/+","miR-30a-M/+","NC-I/-","miR-30a-I/-","NC-I/+","miR-30a-I/+"], "range": ["circle","square","triangle-up","triangle-down","circle","square","triangle-up","triangle-down"]}, "legend": null}}},
             {"data": {"name": "sig"}, "transform": [{"filter": {"field": "p", "equal": "D1"}}], "mark": {"type": "rule", "strokeWidth": 1.5, "color": "#000"}, "encoding": {"x": {"field": "from", "type": "nominal", "bandPosition": 0.5, "axis": null}, "x2": {"field": "to", "bandPosition": 0.5}, "color": {"value": "#000"}}},
             {"data": {"name": "sig"}, "transform": [{"filter": {"field": "p", "equal": "D1"}}], "mark": {"type": "text", "baseline": "bottom", "dy": -1, "fontSize": 10, "fill": "#000"}, "encoding": {"x": {"field": "from", "type": "nominal", "bandPosition": 1.393, "axis": {"orient": "top", "title": "IFN-β", "labels": false, "ticks": false, "domain": false, "titlePadding": 16}}, "text": {"field": "s"}, "color": {"value": "#000"}}}
           ]},
          {"width": 163, "height": 14, "data": {"name": "conds"}, "transform": [{"filter": {"field": "r", "equal": "D"}}], "mark": {"type": "text", "fontSize": 14, "fontWeight": "bold"},
           "encoding": {"x": {"field": "g", "type": "nominal", "scale": {"domain": ["NC-I/-","miR-30a-I/-","NC-I/+","miR-30a-I/+"], "paddingInner": 0.44, "paddingOuter": 0.46}, "axis": null}, "y": {"field": "virus", "type": "nominal", "axis": {"title": null, "domain": false, "ticks": false, "labelFontSize": 14, "labelPadding": 7, "labelAngle": 0}}, "text": {"field": "s"}}}
        ]},
        {"spacing": 68, "hconcat": [
        {"bounds": "flush", "spacing": 65, "vconcat": [
          {"width": 163, "height": 157, "data": {"name": "reps"}, "transform": [{"filter": {"field": "p", "equal": "D2"}}], "resolve": {"axis": {"x": "independent"}},
           "encoding": {
             "x": {"field": "g", "type": "nominal", "scale": {"domain": ["NC-I/-","miR-30a-I/-","NC-I/+","miR-30a-I/+"], "paddingInner": 0.44, "paddingOuter": 0.46}, "axis": null},
             "y": {"field": "v", "type": "quantitative", "scale": {"domain": [0, 80], "nice": false}, "axis": {"values": [0, 20, 40, 60, 80], "format": "d", "title": "Relative mRNA levels"}},
             "color": {"field": "g", "type": "nominal", "scale": {"domain": ["NC-M/-","miR-30a-M/-","NC-M/+","miR-30a-M/+","NC-I/-","miR-30a-I/-","NC-I/+","miR-30a-I/+"], "range": ["#000000","#1b1bd4","#b00d0d","#168a16","#000000","#1b1bd4","#b00d0d","#168a16"]}, "legend": null}
           },
           "layer": [
             {"transform": [{"aggregate": [{"op": "mean", "field": "v", "as": "v"}], "groupby": ["g"]}], "mark": {"type": "bar", "filled": false, "strokeWidth": 2.7}, "encoding": {"x": {"field": "g", "type": "nominal", "axis": {"title": null, "labelExpr": "split(datum.label, '/')[0]"}}}},
             {"mark": {"type": "errorbar", "extent": "stdev", "ticks": {"size": 12}, "thickness": 1.4}},
             {"mark": {"type": "point", "filled": true, "size": 26, "opacity": 1}, "encoding": {"xOffset": {"field": "rep", "type": "nominal"}, "shape": {"field": "g", "type": "nominal", "scale": {"domain": ["NC-M/-","miR-30a-M/-","NC-M/+","miR-30a-M/+","NC-I/-","miR-30a-I/-","NC-I/+","miR-30a-I/+"], "range": ["circle","square","triangle-up","triangle-down","circle","square","triangle-up","triangle-down"]}, "legend": null}}},
             {"data": {"name": "sig"}, "transform": [{"filter": {"field": "p", "equal": "D2"}}], "mark": {"type": "rule", "strokeWidth": 1.5, "color": "#000"}, "encoding": {"x": {"field": "from", "type": "nominal", "bandPosition": 0.5, "axis": null}, "x2": {"field": "to", "bandPosition": 0.5}, "color": {"value": "#000"}}},
             {"data": {"name": "sig"}, "transform": [{"filter": {"field": "p", "equal": "D2"}}], "mark": {"type": "text", "baseline": "bottom", "dy": -1, "fontSize": 10, "fill": "#000"}, "encoding": {"x": {"field": "from", "type": "nominal", "bandPosition": 1.393, "axis": {"orient": "top", "title": "ISG15", "labels": false, "ticks": false, "domain": false, "titlePadding": 16}}, "text": {"field": "s"}, "color": {"value": "#000"}}}
           ]},
          {"width": 163, "height": 14, "data": {"name": "conds"}, "transform": [{"filter": {"field": "r", "equal": "D"}}], "mark": {"type": "text", "fontSize": 14, "fontWeight": "bold"},
           "encoding": {"x": {"field": "g", "type": "nominal", "scale": {"domain": ["NC-I/-","miR-30a-I/-","NC-I/+","miR-30a-I/+"], "paddingInner": 0.44, "paddingOuter": 0.46}, "axis": null}, "y": {"field": "virus", "type": "nominal", "axis": {"title": null, "domain": false, "ticks": false, "labelFontSize": 14, "labelPadding": 7, "labelAngle": 0}}, "text": {"field": "s"}}}
        ]},
        {"bounds": "flush", "spacing": 65, "vconcat": [
          {"width": 163, "height": 157, "data": {"name": "reps"}, "transform": [{"filter": {"field": "p", "equal": "D3"}}], "resolve": {"axis": {"x": "independent"}},
           "encoding": {
             "x": {"field": "g", "type": "nominal", "scale": {"domain": ["NC-I/-","miR-30a-I/-","NC-I/+","miR-30a-I/+"], "paddingInner": 0.44, "paddingOuter": 0.46}, "axis": null},
             "y": {"field": "v", "type": "quantitative", "scale": {"domain": [0, 60], "nice": false}, "axis": {"values": [0, 20, 40, 60], "format": "d", "title": "Relative mRNA levels"}},
             "color": {"field": "g", "type": "nominal", "scale": {"domain": ["NC-M/-","miR-30a-M/-","NC-M/+","miR-30a-M/+","NC-I/-","miR-30a-I/-","NC-I/+","miR-30a-I/+"], "range": ["#000000","#1b1bd4","#b00d0d","#168a16","#000000","#1b1bd4","#b00d0d","#168a16"]}, "legend": null}
           },
           "layer": [
             {"transform": [{"aggregate": [{"op": "mean", "field": "v", "as": "v"}], "groupby": ["g"]}], "mark": {"type": "bar", "filled": false, "strokeWidth": 2.7}, "encoding": {"x": {"field": "g", "type": "nominal", "axis": {"title": null, "labelExpr": "split(datum.label, '/')[0]"}}}},
             {"mark": {"type": "errorbar", "extent": "stdev", "ticks": {"size": 12}, "thickness": 1.4}},
             {"mark": {"type": "point", "filled": true, "size": 26, "opacity": 1}, "encoding": {"xOffset": {"field": "rep", "type": "nominal"}, "shape": {"field": "g", "type": "nominal", "scale": {"domain": ["NC-M/-","miR-30a-M/-","NC-M/+","miR-30a-M/+","NC-I/-","miR-30a-I/-","NC-I/+","miR-30a-I/+"], "range": ["circle","square","triangle-up","triangle-down","circle","square","triangle-up","triangle-down"]}, "legend": null}}},
             {"data": {"name": "sig"}, "transform": [{"filter": {"field": "p", "equal": "D3"}}], "mark": {"type": "rule", "strokeWidth": 1.5, "color": "#000"}, "encoding": {"x": {"field": "from", "type": "nominal", "bandPosition": 0.5, "axis": null}, "x2": {"field": "to", "bandPosition": 0.5}, "color": {"value": "#000"}}},
             {"data": {"name": "sig"}, "transform": [{"filter": {"field": "p", "equal": "D3"}}], "mark": {"type": "text", "baseline": "bottom", "dy": -1, "fontSize": 10, "fill": "#000"}, "encoding": {"x": {"field": "from", "type": "nominal", "bandPosition": 1.393, "axis": {"orient": "top", "title": "Viperin", "labels": false, "ticks": false, "domain": false, "titlePadding": 16}}, "text": {"field": "s"}, "color": {"value": "#000"}}}
           ]},
          {"width": 163, "height": 14, "data": {"name": "conds"}, "transform": [{"filter": {"field": "r", "equal": "D"}}], "mark": {"type": "text", "fontSize": 14, "fontWeight": "bold"},
           "encoding": {"x": {"field": "g", "type": "nominal", "scale": {"domain": ["NC-I/-","miR-30a-I/-","NC-I/+","miR-30a-I/+"], "paddingInner": 0.44, "paddingOuter": 0.46}, "axis": null}, "y": {"field": "virus", "type": "nominal", "axis": {"title": null, "domain": false, "ticks": false, "labelFontSize": 14, "labelPadding": 7, "labelAngle": 0}}, "text": {"field": "s"}}}
        ]}
        ]}
        ]}
      ]
    }
  ]
}
